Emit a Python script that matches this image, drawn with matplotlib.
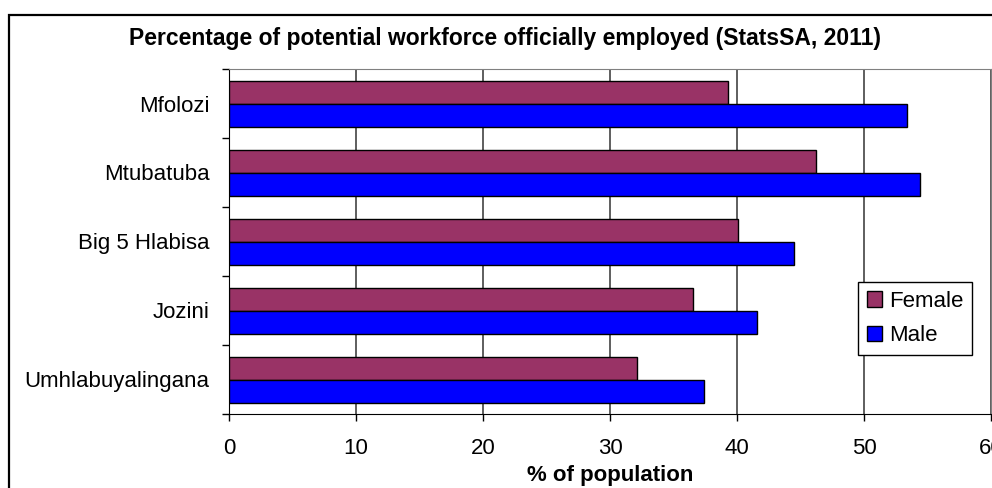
import matplotlib
matplotlib.use("Agg")
import matplotlib.pyplot as plt
from matplotlib.patches import Rectangle

plt.rcParams["font.family"] = ["Liberation Sans", "DejaVu Sans"]

# data (bottom -> top, as drawn)
districts = ["Umhlabuyalingana", "Jozini", "Big 5 Hlabisa", "Mtubatuba", "Mfolozi"]
female = [32.1, 36.5, 40.1, 46.2, 39.3]
male = [37.4, 41.6, 44.5, 54.4, 53.4]
xticks = [0, 10, 20, 30, 40, 50, 60]

C_FEM = "#993366"
C_MALE = "#0000FF"
W, H = 992, 488
FS = 16

fig = plt.figure(figsize=(W / 100, H / 100), dpi=100)
fig.patch.set_facecolor("white")

# outer chart border (cropped at right/bottom in the original)
fig.patches.append(Rectangle((9 / W, -0.1), 1.2, 1 - 15 / H + 0.1, transform=fig.transFigure,
                             fill=False, edgecolor="black", lw=1.6))

ax = fig.add_axes([229 / W, 1 - 414 / H, (991 - 229) / W, (414 - 69) / H])
ys = list(range(len(districts)))
bh = 1 / 3
ax.barh([y + bh / 2 for y in ys], female, height=bh, color=C_FEM, edgecolor="black", lw=1, label="Female", zorder=3)
ax.barh([y - bh / 2 for y in ys], male, height=bh, color=C_MALE, edgecolor="black", lw=1, label="Male", zorder=3)

ax.set_xlim(0, 60)
ax.set_ylim(-0.5, len(districts) - 0.5)
ax.set_xticks(xticks)
ax.set_xticklabels([str(t) for t in xticks], fontsize=FS)
ax.tick_params(axis="x", length=5, width=1, pad=12.5, direction="out")

# y ticks at category boundaries, labels at centres
ax.set_yticks([y - 0.5 for y in range(len(districts) + 1)])
ax.set_yticklabels([])
ax.set_yticks(ys, minor=True)
ax.set_yticklabels(districts, minor=True, fontsize=FS)
ax.tick_params(axis="y", which="major", length=5, width=1, direction="out")
ax.tick_params(axis="y", which="minor", length=0, pad=14)

ax.grid(True, axis="x", color="#333333", lw=1.1, zorder=0)
ax.spines["top"].set_color("#808080")
ax.spines["right"].set_color("#808080")
ax.spines["left"].set_color("black")
ax.spines["bottom"].set_color("black")

ax.set_xlabel("% of population", fontsize=FS, fontweight="bold", labelpad=4)

fig.text(505 / W, 1 - 38 / H, "Percentage of potential workforce officially employed (StatsSA, 2011)",
         ha="center", va="center", fontsize=16.5, fontweight="bold")

leg = ax.legend(loc="upper left", bbox_to_anchor=((858 - 229) / (991 - 229), (414 - 282) / (414 - 69)),
                fontsize=FS, frameon=True, fancybox=False, edgecolor="black", framealpha=1,
                handlelength=0.7, handleheight=0.7, handletextpad=0.3, borderpad=0.4,
                labelspacing=0.6, borderaxespad=0)
leg.get_frame().set_linewidth(1)

fig.savefig("out.png", dpi=100)
